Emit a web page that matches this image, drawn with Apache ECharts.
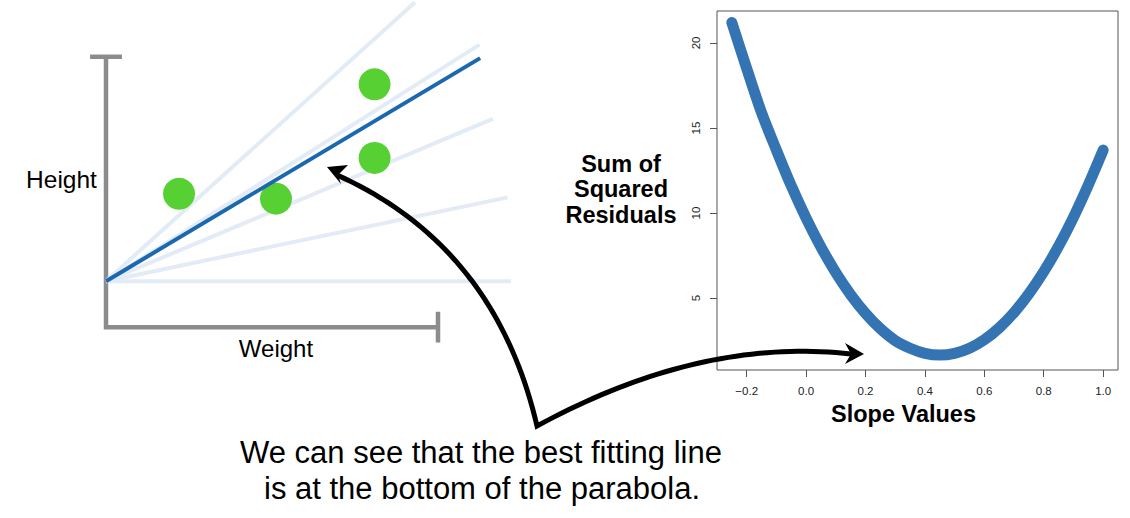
<!DOCTYPE html>
<html><head><meta charset="utf-8">
<script src="https://cdn.jsdelivr.net/npm/echarts@6/dist/echarts.min.js"></script>
<style>html,body{margin:0;padding:0;background:#fff}#c{width:1130px;height:518px}</style>
</head><body><div id="c"></div>
<script>
// ---------- data ----------
const slopeValues = [-0.25,-0.20,-0.15,-0.10,-0.05,0.00,0.05,0.10,0.15,0.20,0.25,0.30,0.35,0.40,0.45,0.50,0.55,0.60,0.65,0.70,0.75,0.80,0.85,0.90,0.95,1.00];
const ssrValues = [21.2,18.5,15.9,13.7,11.6,9.7,8.0,6.5,5.2,4.1,3.2,2.5,2.05,1.75,1.65,1.75,2.05,2.55,3.25,4.15,5.25,6.55,8.05,9.75,11.65,13.7];
const slopeTicks = [-0.2,0.0,0.2,0.4,0.6,0.8,1.0];
const ssrTicks = [5,10,15,20];
const weights = [2.2,5.12,8.09,8.09];
const heights = [4.93,4.75,8.98,6.26];
const lineStart = [0,1.7];
const candidateEndX = [12.2,12.1,11.65,11.25,9.31];
const candidateEndY = [1.7,4.8,7.7,10.45,12.02];
const bestEnd = [11.27,9.95];
const axisFrame = [[0,10],[0,0],[10,0]];
const axisCapTop = [[-0.48,10],[0.48,10]];
const axisCapRight = [[10,-0.57],[10,0.57]];

// ---------- styles ----------
const FONT = "'Liberation Sans', Arial, Helvetica, sans-serif";
const chart = echarts.init(document.getElementById('c'), null, {renderer:'svg', width:1130, height:518});

function quad(p0,p1,p2,n){const pts=[];for(let i=0;i<=n;i++){const t=i/n,a=(1-t)*(1-t),b=2*t*(1-t),c=t*t;pts.push([a*p0[0]+b*p1[0]+c*p2[0],a*p0[1]+b*p1[1]+c*p2[1]]);}return pts;}
const V=[537,426];
const leftArm = quad([337,175],[495,246],V,40);
const rightArm = quad(V,[700,337],[851,354],40).slice(1);
const arrowPts = leftArm.concat(rightArm);

const candidateSeries = candidateEndX.map((x,i)=>({
  type:'line', xAxisIndex:1, yAxisIndex:1, silent:true, symbol:'none', z:1,
  lineStyle:{color:'#e3ebf6', width:4},
  data:[lineStart,[x,candidateEndY[i]]]
}));
const frameStyle = {color:'#8c8c8c', width:4.5, cap:'butt', join:'miter'};
const frameSeries = [axisFrame,axisCapTop,axisCapRight].map(d=>({
  type:'line', xAxisIndex:1, yAxisIndex:1, silent:true, symbol:'none', z:1, lineStyle:frameStyle, data:d
}));

function txt(text,x,y,size,weight,lh){return {type:'text',z:50,style:{text:text,x:x,y:y,fontSize:size,fontWeight:weight,fontFamily:FONT,fill:'#000',lineHeight:lh||undefined,textAlign:'center',textVerticalAlign:'middle',align:'center',verticalAlign:'middle'}};}

const option = {
  animation:false,
  backgroundColor:'#fff',
  grid:[
    {left:717, top:11, width:401, height:359, show:true, borderColor:'#555', borderWidth:1, backgroundColor:'transparent'},
    {left:72.8, top:-2.1, width:464.8, height:356.3}
  ],
  xAxis:[
    {type:'value', gridIndex:0, min:-0.3, max:1.05,
     axisLine:{show:false,onZero:false}, splitLine:{show:false},
     axisTick:{show:true, length:7, customValues:slopeTicks, lineStyle:{color:'#555',width:1}},
     axisLabel:{customValues:slopeTicks, margin:15, fontSize:11.5, fontFamily:FONT, color:'#222',
       formatter:v=>(v<0?'\u2212':'')+Math.abs(v).toFixed(1)}},
    {type:'value', gridIndex:1, min:-1, max:13, show:false}
  ],
  yAxis:[
    {type:'value', gridIndex:0, min:0.77, max:21.88,
     axisLine:{show:false,onZero:false}, splitLine:{show:false},
     axisTick:{show:true, length:7, customValues:ssrTicks, lineStyle:{color:'#555',width:1}},
     axisLabel:{customValues:ssrTicks, rotate:90, margin:15, fontSize:11.5, fontFamily:FONT, color:'#222'}},
    {type:'value', gridIndex:1, min:-1, max:12.1, show:false}
  ],
  series:[
    {type:'line', xAxisIndex:0, yAxisIndex:0, smooth:0.3, symbol:'none', z:3,
     lineStyle:{color:'#3474b3', width:11, cap:'round', join:'round'},
     data:slopeValues.map((s,i)=>[s,ssrValues[i]])},
    ...frameSeries,
    ...candidateSeries,
    {type:'scatter', xAxisIndex:1, yAxisIndex:1, symbolSize:32, z:2,
     itemStyle:{color:'#56d033', opacity:1},
     data:weights.map((w,i)=>[w,heights[i]])},
    {type:'line', xAxisIndex:1, yAxisIndex:1, symbol:'none', z:4,
     lineStyle:{color:'#1a68b0', width:4},
     data:[lineStart,bestEnd]}
  ],
  graphic:[
    txt('Height',61.5,179,24.5,'normal'),
    txt('Weight',276,348,24,'normal'),
    txt('Sum of\nSquared\nResiduals',621,189,23.5,'bold',25.5),
    txt('Slope Values',903.5,414,23.5,'bold'),
    txt('We can see that the best fitting line',481,452,31,'normal'),
    txt('is at the bottom of the parabola.',482,488,31,'normal'),
    {type:'polyline', z:40, shape:{points:arrowPts}, style:{stroke:'#000', lineWidth:5, fill:null, lineJoin:'miter', miterLimit:10}},
    {type:'polygon', z:41, shape:{points:[[327,167],[348,165],[338,175],[341,184]]}, style:{fill:'#000'}},
    {type:'polygon', z:41, shape:{points:[[864,354],[845,343],[851,354],[845,364]]}, style:{fill:'#000'}}
  ]
};
chart.setOption(option);
</script></body></html>
